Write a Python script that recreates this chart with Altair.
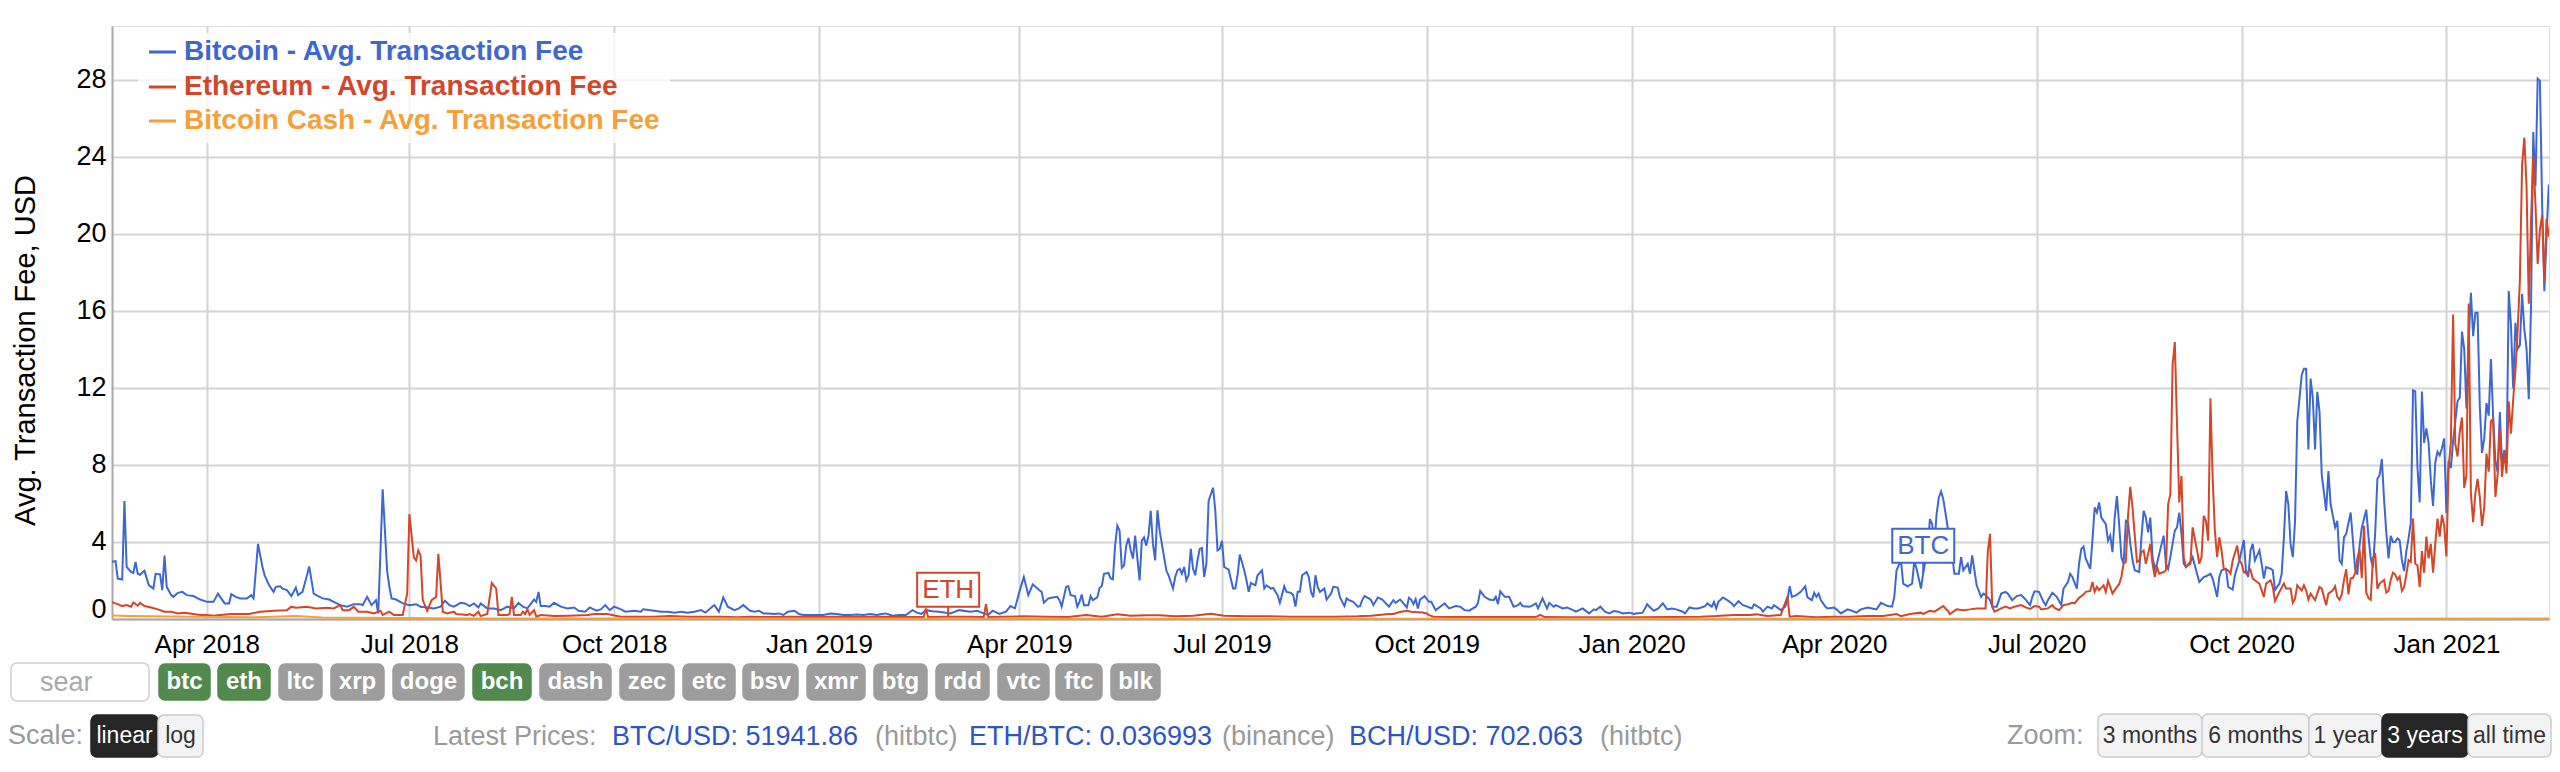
import altair as alt
import pandas as pd

# ---------------- data ----------------
BASE_DATE = "2018-02-17"   # day 0 of the series below

# (day offset from BASE_DATE, avg fee USD)
btc_2018 = [(0,2.96),(2,3.0),(3,2.1),(5,2.05),(6,6.13),(7,2.7),(9,2.44),(10,2.39),(11,2.96),(12,2.35),(13,2.3),(15,2.5),
            (17,1.75),(18,1.67),(19,1.58),(20,2.35),(22,2.32),(23,1.5),(24,3.3),(25,1.67),(27,1.24),(28,1.15),(30,1.36),
            (32,1.41),(34,1.24),(37,1.19),(40,1.01),(43,0.89),(46,0.89),(48,1.32),(49,1.15),(51,0.81),(53,0.81),(54,1.29),
            (56,1.15),(58,1.07),(61,1.07),(63,1.24),(64,1.07),(66,3.9),(68,2.7),(69,2.27),(71,1.75),(73,1.41),(74,1.67),
            (76,1.7),(77,1.58),(79,1.5),(81,1.19),(83,1.63),(84,1.24),(86,1.41),(88,2.27),(89,2.73),(91,1.32),(93,1.19),
            (95,1.07),(98,1.01),(100,0.89),(103,0.72),(106,0.64),(109,0.77),(112,0.77),(113,0.72),(115,1.15),(117,0.72),
            (119,0.98),(120,0.29),(122,6.74),(124,2.5),(125,1.67),(126,1.07),(128,1.01),(131,0.81),(134,0.72),(137,0.77),
            (139,0.64),(142,0.6),(145,0.55),(148,0.64),(150,0.95),(152,0.72),(154,0.64),(157,0.84),(159,0.81),(161,0.67),
            (163,0.81),(165,0.6),(166,0.81),(169,0.55),(172,0.55),(175,0.46),(178,0.64),(181,0.55),(183,0.84),(185,0.64),
            (187,0.55),(190,1.01),(191,0.89),(192,1.41),(193,0.67),(195,0.67),(197,0.64),(199,0.84),(202,0.64),(205,0.55),
            (208,0.6),(210,0.43),(213,0.38),(215,0.6),(218,0.43),(220,0.5),(222,0.72),(224,0.46),(226,0.64),(229,0.5),
            (231,0.38),(235,0.43),(238,0.38),(239,0.5),(244,0.43),(247,0.38),(250,0.38),(253,0.33),(256,0.38),(259,0.33),
            (262,0.38),(265,0.46),(267,0.33),(270,0.64),(271,0.72),(273,0.38),(275,1.12),(277,0.64),(280,0.46),(282,0.55),
            (284,0.72),(287,0.43),(289,0.38),(291,0.43),(293,0.29),(295,0.29),(298,0.26),(300,0.29),(302,0.21),(304,0.38),
            (307,0.43),(309,0.26),(311,0.21),(314,0.21),(317,0.21)]
btc_2019 = [(320,0.21),(323,0.29),(326,0.26),(329,0.21),(332,0.21),(335,0.24),(338,0.21),(341,0.26),(344,0.21),(346,0.26),
            (348,0.29),(351,0.17),(354,0.21),(357,0.21),(360,0.46),(362,0.33),(364,0.26),(366,0.46),(369,0.4),(372,0.38),
            (377,0.29),(381,0.46),(386,0.38),(389,0.43),(392,0.29),(394,0.21),(396,0.43),(399,0.26),(402,0.38),(404,0.67),
            (406,0.55),(408,1.41),(410,2.18),(412,1.24),(414,1.8),(417,1.49),(418,1.41),(419,0.84),(421,1.07),(423,1.12),
            (425,1.15),(426,0.98),(427,0.64),(429,1.67),(430,1.7),(431,1.24),(433,1.19),(434,0.64),(435,0.89),(436,1.27),
            (437,0.72),(439,0.72),(440,1.19),(441,0.98),(443,1.12),(444,1.61),(445,1.7),(446,2.35),(448,2.39),(449,2.1),
            (450,2.06),(451,3.81),(452,4.85),(453,4.6),(454,2.66),(455,2.78),(456,3.81),(457,4.21),(458,3.57),(459,3.14),
            (460,4.33),(461,3.14),(462,2.0),(463,4.07),(464,4.24),(465,3.81),(466,4.33),(467,5.62),(468,3.9),(469,3.04),
            (470,5.65),(471,4.59),(473,3.21),(474,2.53),(475,2.27),(477,1.58),(478,2.18),(479,2.53),(480,2.61),(481,2.35),
            (482,2.7),(483,2.01),(484,2.27),(485,3.64),(486,2.61),(487,2.27),(488,3.04),(489,3.64),(490,3.69),(491,2.18),
            (492,2.87),(493,6.13),(495,6.82),(496,5.62),(497,3.56),(498,3.64),(499,4.07),(500,2.7),(502,2.56),(504,1.58),
            (505,1.58),(506,2.27),(507,3.35),(509,2.53),(510,2.01),(511,1.41),(512,1.87),(514,1.75),(515,2.27),(517,2.53),
            (518,1.58),(519,1.75),(521,1.58),(522,1.61),(524,1.24),(525,0.84),(527,1.7),(528,1.41),(530,1.36),(531,1.24),
            (532,0.64),(533,1.41),(534,1.41),(535,2.27),(537,2.44),(538,2.18),(539,1.41),(540,1.12),(541,2.27),(542,1.67),
            (543,1.41),(545,1.58),(546,1.01),(548,1.32),(549,1.67),(551,1.63),(552,1.12),(554,0.67),(555,1.07),(556,0.98),
            (558,0.89),(560,0.64),(561,0.67),(562,0.98),(563,1.19),(565,1.07),(566,0.98),(567,0.72),(569,1.12),(571,1.01),
            (572,0.89),(574,0.64),(576,0.98),(577,0.84),(579,1.01),(580,0.89),(582,0.6),(583,1.1),(584,1.01),(585,0.77),
            (586,1.03),(587,0.55),(588,1.01),(590,1.19),(592,0.89),(593,0.89),(595,0.46),(597,0.64),(599,0.81),(601,0.55),
            (604,0.67),(606,0.64),(608,0.46),(610,0.43),(613,0.64),(614,0.84),(615,1.46),(617,1.15),(619,1.01),(621,0.98),
            (622,1.15),(623,0.77),(624,1.44),(626,1.15),(628,1.15),(630,0.64),(632,0.72),(633,0.84),(634,0.67),(637,0.64),
            (638,0.67),(640,0.81),(641,0.55),(643,1.07),(645,0.55),(646,0.84),(648,0.64),(649,0.72),(652,0.55),(654,0.6),
            (656,0.5),(658,0.38),(661,0.55),(662,0.46),(664,0.29),(666,0.5),(667,0.46),(669,0.64),(671,0.38),(673,0.29),
            (675,0.41),(677,0.38),(679,0.29)]
btc_2020 = [(682,0.33),(684,0.26),(685,0.29),(688,0.33),(690,0.77),(691,0.64),(693,0.43),(695,0.55),(697,0.81),(699,0.5),
            (701,0.55),(703,0.5),(706,0.38),(707,0.29),(709,0.6),(711,0.55),(713,0.55),(716,0.67),(717,0.81),(719,0.64),
            (720,0.89),(721,0.55),(722,0.89),(724,1.12),(726,0.98),(728,0.81),(729,0.67),(731,0.93),(733,0.72),(735,0.64),
            (737,0.55),(738,0.76),(741,0.55),(742,0.38),(744,0.64),(746,0.55),(747,0.72),(750,0.46),(752,0.64),(753,0.98),
            (754,1.7),(755,1.15),(757,1.24),(759,1.41),(761,1.7),(762,1.12),(764,0.98),(765,1.36),(766,1.15),(767,1.32),
            (768,0.98),(770,0.64),(771,0.55),(774,0.6),(775,0.5),(777,0.29),(780,0.5),(782,0.43),(784,0.33),(786,0.5),
            (789,0.6),(791,0.55),(793,0.5),(795,0.84),(798,0.67),(800,0.64),(801,1.15),(802,2.53),(804,3.04),(805,1.84),
            (807,1.7),(809,1.84),(810,3.04),(811,2.61),(813,1.58),(814,2.4),(816,3.73),(817,5.19),(818,4.93),(819,3.9),
            (820,5.45),(821,6.31),(822,6.62),(823,6.22),(825,4.76),(826,3.73),(827,3.3),(828,2.35),(830,2.35),(831,3.21),
            (832,2.53),(834,2.87),(835,2.35),(836,3.3),(837,2.53),(838,1.75),(840,1.15),(841,1.32),(842,1.24),(844,0.98),
            (845,0.64),(847,0.64),(849,1.32),(851,1.41),(852,1.32),(854,0.98),(856,1.19),(858,1.24),(860,1.01),(862,0.72),
            (863,1.15),(864,1.44),(866,1.41),(868,0.89),(869,0.72),(870,0.98),(872,1.36),(874,1.15),(876,0.72),(877,1.58),
            (879,1.92),(880,2.35),(881,2.18),(883,1.58),(884,2.87),(885,3.64),(886,3.76),(887,3.13),(889,2.61),(890,4.07),
            (891,5.79),(892,5.53),(893,6.05),(894,5.27),(896,4.93),(897,4.07),(898,4.33),(899,3.47),(900,5.27),(901,6.39),
            (902,4.93),(903,3.21),(904,2.87),(905,5.1),(906,5.02),(907,3.92),(908,3.06),(909,2.53),(911,2.44),(912,4.24),
            (913,5.62),(914,5.27),(915,4.5),(916,5.27),(917,3.21),(918,2.61),(919,2.87),(920,3.38),(922,4.33),(923,2.87),
            (924,2.61),(925,3.21),(926,3.9),(927,4.59),(928,4.76),(929,5.53),(930,4.42),(931,2.87),(932,2.7),(934,2.96),
            (935,3.21),(937,2.35),(938,1.92),(940,2.18),(941,2.22),(943,2.35),(944,2.1),(946,1.15),(947,2.18),(948,2.53),
            (950,2.61),(951,1.67),(953,1.53),(954,2.27),(956,3.04),(958,4.1),(959,2.44),(960,2.18),(961,3.56),(962,3.9),
            (963,3.04),(965,3.56),(966,2.87),(967,2.1),(968,2.7),(970,2.61),(971,2.53),(972,1.51),(974,1.84),(975,2.35),
            (976,4.24),(977,6.65),(978,5.96),(979,3.9),(980,3.21),(981,5.05),(982,10.26),(983,11.46),(984,12.66),(985,13.0),
            (986,13.0),(987,8.8),(988,12.49),(989,11.46),(990,8.8),(991,11.8),(992,10.77),(993,7.5),(995,5.62),(996,7.68),
            (997,5.96),(999,4.76),(1000,5.1),(1001,3.04),(1002,2.87),(1003,4.24),(1004,4.42),(1006,5.53),(1007,4.09),
            (1008,2.59),(1009,2.31),(1010,3.83),(1011,4.75),(1012,5.21),(1013,5.68),(1014,4.28),(1015,3.15),(1016,2.68),
            (1017,4.45),(1018,7.28),(1019,7.47),(1020,8.31),(1021,6.19),(1022,4.5),(1023,3.15),(1024,4.32),(1025,4.0),
            (1026,4.0),(1027,4.19),(1028,4.09),(1029,3.06),(1030,2.49),(1031,3.53),(1032,4.19),(1033,5.0),(1034,11.88),
            (1035,11.82),(1036,7.86),(1037,6.06),(1038,11.82),(1039,9.15),(1040,9.9),(1041,9.15),(1042,7.2),(1043,5.87),
            (1044,8.13),(1045,8.69),(1046,8.5),(1047,8.87),(1048,9.38)]
btc_2021 = [(1049,5.5),(1050,8.22),(1051,7.84),(1052,9.24),(1053,10.28),(1054,11.31),(1055,11.5),(1056,14.93),(1057,14.03),
            (1058,10.94),(1059,14.41),(1060,16.94),(1061,14.69),(1062,15.9),(1063,15.9),(1064,11.03),(1065,8.63),(1066,9.38),
            (1067,11.22),(1068,10.56),(1069,13.5),(1070,10.47),(1071,8.22),(1072,7.65),(1073,10.75),(1074,8.03),(1075,8.78),
            (1076,8.03),(1077,17.03),(1078,15.25),(1079,11.97),(1080,15.38),(1081,14.03),(1082,14.22),(1083,16.89),
            (1084,15.06),(1085,14.03),(1086,11.41),(1087,16.1),(1088,25.29),(1089,22.48),(1090,28.07),(1091,27.95),
            (1092,21.54),(1093,17.03),(1094,20.0),(1095,22.57)]

eth_2018 = [(0,0.89),(3,0.77),(5,0.67),(7,0.72),(9,0.64),(10,0.86),(12,0.69),(13,0.84),(15,0.67),(18,0.6),(21,0.5),(24,0.38),
            (27,0.38),(30,0.29),(33,0.33),(37,0.26),(40,0.21),(43,0.21),(46,0.17),(49,0.21),(54,0.26),(58,0.26),(62,0.26),
            (67,0.38),(73,0.43),(79,0.46),(81,0.64),(83,0.58),(88,0.64),(92,0.55),(97,0.58),(100,0.55),(103,0.72),(104,0.46),
            (107,0.46),(109,0.64),(111,0.38),(115,0.38),(118,0.29),(121,0.43),(122,0.21),(125,0.38),(127,0.21),(131,0.21),
            (133,1.32),(134,5.45),(136,3.21),(137,3.04),(138,3.56),(139,3.3),(140,0.98),(142,0.42),(144,0.98),(146,1.15),
            (147,3.38),(149,0.38),(151,0.29),(154,0.38),(155,0.26),(160,0.21),(161,0.26),(163,0.17),(165,0.38),(166,0.15),
            (169,0.26),(171,1.87),(173,1.58),(174,0.21),(178,0.21),(179,0.26),(180,1.15),(181,0.21),(184,0.21),(185,0.38),
            (186,0.26),(187,0.5),(188,0.21),(190,0.46),(191,0.12),(193,0.21),(199,0.15),(206,0.17),(214,0.21),(217,0.26),
            (223,0.26),(225,0.21),(229,0.12),(236,0.12),(244,0.12),(251,0.15),(259,0.12),(266,0.12),(274,0.12),(281,0.09),
            (287,0.12),(295,0.1),(305,0.12),(315,0.1)]
eth_2019 = [(325,0.12),(335,0.1),(345,0.12),(355,0.1),(365,0.1),(366,0.55),(367,0.1),(376,0.12),(385,0.12),(392,0.1),
            (393,0.77),(394,0.1),(400,0.12),(410,0.14),(420,0.12),(430,0.1),(438,0.21),(445,0.12),(452,0.24),(458,0.17),
            (465,0.19),(471,0.19),(478,0.14),(486,0.17),(494,0.27),(500,0.17),(510,0.14),(520,0.14),(530,0.12),(540,0.12),
            (550,0.12),(560,0.14),(566,0.17),(574,0.26),(576,0.26),(579,0.36),(582,0.43),(584,0.38),(586,0.36),(589,0.34),
            (591,0.29),(592,0.2),(594,0.12),(600,0.1),(610,0.1),(620,0.1),(630,0.1),(640,0.1),(642,0.21),(644,0.1),
            (655,0.09),(670,0.09)]
eth_2020 = [(685,0.09),(700,0.1),(714,0.12),(721,0.15),(729,0.21),(736,0.21),(739,0.24),(744,0.15),(750,0.21),(753,1.15),
            (754,0.12),(757,0.15),(766,0.09),(774,0.12),(781,0.12),(789,0.15),(796,0.15),(802,0.26),(804,0.15),(808,0.26),
            (813,0.33),(814,0.26),(817,0.43),(819,0.38),(823,0.67),(825,0.43),(826,0.26),(829,0.5),(832,0.46),(835,0.5),
            (838,0.55),(842,0.55),(843,3.5),(844,4.42),(845,0.64),(846,0.38),(849,0.55),(851,0.64),(853,0.55),(855,0.64),
            (858,0.72),(860,0.6),(862,0.52),(864,0.67),(866,0.64),(867,0.5),(870,0.55),(872,0.72),(873,0.58),(875,0.46),
            (877,0.72),(879,0.77),(881,0.84),(882,0.81),(884,1.1),(886,1.27),(887,1.41),(889,1.46),(890,1.92),(891,1.41),
            (892,1.67),(893,1.5),(895,1.75),(896,1.41),(897,1.98),(898,1.67),(899,1.32),(901,1.67),(902,1.81),(903,2.18),
            (904,2.87),(905,2.96),(906,5.36),(907,6.86),(908,5.79),(910,2.96),(911,3.04),(912,3.47),(913,3.56),(914,2.87),
            (916,3.9),(917,2.87),(918,2.18),(919,2.7),(920,2.35),(922,2.44),(923,2.53),(924,5.96),(925,6.48),(926,13.18),
            (927,14.38),(928,10.09),(929,6.05),(930,7.42),(931,3.21),(932,2.7),(934,2.87),(935,4.76),(937,3.56),(938,2.87),
            (939,3.21),(940,5.36),(941,5.1),(942,4.07),(943,11.46),(944,7.34),(945,4.59),(946,3.21),(947,4.24),(948,3.56),
            (949,2.61),(951,2.53),(952,2.35),(953,3.04),(955,3.81),(956,3.04),(957,2.87),(958,2.44),(959,2.39),(961,2.56),
            (962,2.1),(964,1.92),(965,1.84),(967,1.15),(968,1.84),(970,2.01),(971,1.67),(972,0.94),(974,1.41),(976,1.84),
            (977,1.58),(979,1.58),(980,0.84),(981,1.05),(982,1.75),(984,1.49),(985,1.75),(986,1.49),(987,1.01),(988,1.32),
            (990,0.98),(991,1.32),(992,1.67),(993,1.58),(995,0.72),(996,1.32),(998,1.49),(999,1.7),(1000,1.15),(1001,1.0),
            (1002,1.28),(1003,2.03),(1004,2.59),(1005,1.28),(1006,2.12),(1007,2.12),(1008,2.4),(1009,3.15),(1010,3.62),
            (1011,2.12),(1012,4.84),(1013,1.37),(1014,1.09),(1015,1.0),(1016,3.15),(1017,3.43),(1018,1.56),(1019,1.84),
            (1021,2.03),(1022,1.37),(1023,1.46),(1024,2.03),(1025,2.4),(1026,2.31),(1027,2.03),(1028,2.21),(1029,1.46),
            (1030,1.65),(1031,2.31),(1032,3.06),(1033,2.96),(1034,5.22),(1035,2.87),(1036,2.78),(1037,1.65),(1038,3.53),
            (1039,2.4),(1040,4.28),(1041,3.15),(1042,3.9),(1043,2.4),(1044,3.9),(1045,5.22),(1046,4.28),(1047,5.4),
            (1048,4.84)]
eth_2021 = [(1049,3.25),(1050,7.85),(1051,9.19),(1052,15.82),(1053,9.09),(1054,8.44),(1055,9.72),(1056,10.47),(1057,6.81),
            (1058,7.47),(1059,16.38),(1060,6.53),(1061,5.03),(1062,6.53),(1063,7.28),(1064,6.34),(1065,4.84),(1066,5.78),
            (1067,8.59),(1068,7.65),(1069,10.28),(1070,10.38),(1071,6.34),(1072,7.47),(1073,9.91),(1074,7.38),(1075,8.69),
            (1076,7.56),(1077,11.31),(1078,9.62),(1079,11.41),(1080,12.9),(1081,14.97),(1082,17.6),(1083,23.6),(1084,25.0),
            (1085,22.47),(1086,16.38),(1087,20.6),(1088,24.07),(1089,21.54),(1090,18.44),(1091,20.23),(1092,20.98),
            (1093,17.5),(1094,20.79),(1095,19.85)]

bch_all = [(0,0.18),(8,0.16),(20,0.14),(35,0.12),(50,0.1),(65,0.09),(83,0.16),(95,0.08),(110,0.06),(130,0.05),(160,0.03),
           (200,0.02),(300,0.02),(400,0.01),(600,0.01),(800,0.01),(950,0.02),(1000,0.01),(1095,0.02)]

series_names = ["Bitcoin", "Ethereum", "Bitcoin Cash"]
legend_labels = ["Bitcoin - Avg. Transaction Fee", "Ethereum - Avg. Transaction Fee",
                 "Bitcoin Cash - Avg. Transaction Fee"]
series_colors = ["#3d68d2", "#d2472a", "#f5a03a"]

annotation_text = ["ETH", "BTC"]
annotation_series = ["Ethereum", "Bitcoin"]
annotation_day = [376, 814]

y_ticks = [0, 4, 8, 12, 16, 20, 24, 28]
x_tick_months = [(2018, 4), (2018, 7), (2018, 10), (2019, 1), (2019, 4), (2019, 7), (2019, 10),
                 (2020, 1), (2020, 4), (2020, 7), (2020, 10), (2021, 1)]

coin_labels = ["btc", "eth", "ltc", "xrp", "doge", "bch", "dash", "zec", "etc", "bsv", "xmr", "btg",
               "rdd", "vtc", "ftc", "blk"]
coin_active = ["btc", "eth", "bch"]
scale_labels = ["linear", "log"]
zoom_labels = ["3 months", "6 months", "1 year", "3 years", "all time"]
zoom_active = "3 years"
price_texts = ["Latest Prices:", "BTC/USD: 51941.86", "(hitbtc)", "ETH/BTC: 0.036993", "(binance)",
               "BCH/USD: 702.063", "(hitbtc)"]
price_kinds = ["muted", "quote", "muted", "quote", "muted", "quote", "muted"]

# ---------------- layout (page pixels) ----------------
PLOT_X0, PLOT_Y0 = 112, 26
W, H = 2437, 593
FONT = "Liberation Sans"
coin_left = [159, 218, 279, 331, 393, 473, 540, 620, 683, 743, 807, 874, 936, 998, 1056, 1111]
coin_right = [210, 270, 322, 384, 464, 531, 611, 674, 735, 798, 865, 927, 989, 1049, 1102, 1160]
scale_left, scale_right = [91, 158], [158, 203]
zoom_left = [2098, 2202, 2309, 2382, 2468]
zoom_right = [2202, 2309, 2382, 2468, 2551]
price_left = [433, 612, 875, 969, 1222, 1349, 1600]


def cx(px):
    return px - PLOT_X0


def cy(py):
    return py - PLOT_Y0


# ---------------- build tables ----------------
base = pd.Timestamp(BASE_DATE)
series_points = {
    "Bitcoin": btc_2018 + btc_2019 + btc_2020 + btc_2021,
    "Ethereum": eth_2018 + eth_2019 + eth_2020 + eth_2021,
    "Bitcoin Cash": bch_all,
}
rows = []
for name in series_names:
    for d, v in sorted(series_points[name]):
        rows.append({"date": (base + pd.Timedelta(days=d)).strftime("%Y-%m-%dT%H:%M:%S"),
                     "fee": v, "series": name})
df = pd.DataFrame(rows)

ann_rows = []
for t, s, d in zip(annotation_text, annotation_series, annotation_day):
    val = dict(series_points[s])[d]
    ann_rows.append({"date": (base + pd.Timedelta(days=d)).strftime("%Y-%m-%dT%H:%M:%S"),
                     "fee": val, "label": t, "series": s})
ann_df = pd.DataFrame(ann_rows)

x_scale = alt.Scale(domain=[alt.DateTime(year=2018, month=2, date=17, hours=10),
                            alt.DateTime(year=2021, month=2, date=16, hours=2)], nice=False)
y_scale = alt.Scale(domain=[0, 30.8], nice=False, zero=False)
color_scale = alt.Scale(domain=series_names, range=series_colors)

x_axis = alt.Axis(values=[alt.DateTime(year=y, month=m, date=1) for y, m in x_tick_months],
                  format="%b %Y", title=None, grid=True, gridColor="#d4d4d4", gridWidth=2,
                  tickSize=0, domainColor="#a8a8a8", domainWidth=2, labelFontSize=26,
                  labelColor="#000000", labelPadding=12, labelFont=FONT, labelFlush=False)
y_axis = alt.Axis(values=y_ticks, title="Avg. Transaction Fee, USD", grid=True, gridColor="#d4d4d4",
                  gridWidth=2, tickSize=0, domainColor="#a8a8a8", domainWidth=2, labelFontSize=27,
                  labelColor="#000000", labelPadding=6, labelFont=FONT, labelFlush=True,
                  labelFlushOffset=4, titleFontSize=29, titleFontWeight="normal", titleColor="#000000",
                  titleFont=FONT, titleAngle=270, titleX=cx(34), titleY=cy(350), titleAlign="center",
                  titleBaseline="alphabetic")

lines = alt.Chart(df).mark_line(strokeWidth=2, clip=True).encode(
    x=alt.X("date:T", scale=x_scale, axis=x_axis),
    y=alt.Y("fee:Q", scale=y_scale, axis=y_axis),
    color=alt.Color("series:N", scale=color_scale, legend=None),
    order=alt.Order("date:T"),
)

box_path = "M-1,-1.42L1,-1.42L1,-0.32L-1,-0.32Z M0,-0.32L0,0"
ann_boxes = alt.Chart(ann_df).mark_point(shape=box_path, size=62 * 62, filled=True, fill="white",
                                         fillOpacity=1, strokeWidth=2, opacity=1, clip=False).encode(
    x=alt.X("date:T", scale=x_scale, axis=None),
    y=alt.Y("fee:Q", scale=y_scale, axis=None),
    stroke=alt.Stroke("series:N", scale=color_scale, legend=None),
)
ann_text = alt.Chart(ann_df).mark_text(fontSize=26, dy=-27, baseline="middle", align="center",
                                       font=FONT).encode(
    x=alt.X("date:T", scale=x_scale, axis=None),
    y=alt.Y("fee:Q", scale=y_scale, axis=None),
    text="label:N",
    color=alt.Color("series:N", scale=color_scale, legend=None),
)

# legend box inside the plot
leg_df = pd.DataFrame({"label": legend_labels, "c": series_colors,
                       "ly": [cy(52), cy(87), cy(121)]})
leg_bg = alt.Chart(pd.DataFrame({"k": [0]})).mark_rect(fill="white", opacity=0.78).encode(
    x=alt.value(cx(138)), x2=alt.value(cx(670)), y=alt.value(cy(33)), y2=alt.value(cy(143)))
leg_swatch = alt.Chart(leg_df).mark_rule(strokeWidth=3).encode(
    x=alt.value(cx(149)), x2=alt.value(cx(176)),
    y=alt.Y("ly:Q", scale=None, axis=None),
    color=alt.Color("c:N", scale=None, legend=None))
leg_text = alt.Chart(leg_df).mark_text(align="left", baseline="middle", fontSize=28, fontWeight="bold",
                                       font=FONT).encode(
    x=alt.value(cx(184)), y=alt.Y("ly:Q", scale=None, axis=None), text="label:N",
    color=alt.Color("c:N", scale=None, legend=None))

# ---------------- page controls below the chart ----------------
btn_rows = []
# search box
btn_rows.append({"x": cx(11), "x2": cx(149), "y": cy(663), "y2": cy(701), "fill": "#ffffff", "stroke": "#cfcfcf"})
for lab, l, r in zip(coin_labels, coin_left, coin_right):
    btn_rows.append({"x": cx(l), "x2": cx(r), "y": cy(664), "y2": cy(700),
                     "fill": "#528a4e" if lab in coin_active else "#9d9d9d",
                     "stroke": "#528a4e" if lab in coin_active else "#9d9d9d"})
for i, (l, r) in enumerate(zip(scale_left, scale_right)):
    btn_rows.append({"x": cx(l), "x2": cx(r), "y": cy(715), "y2": cy(757),
                     "fill": "#262626" if i == 0 else "#f3f3f3", "stroke": "#262626" if i == 0 else "#cccccc"})
for lab, l, r in zip(zoom_labels, zoom_left, zoom_right):
    act = lab == zoom_active
    btn_rows.append({"x": cx(l), "x2": cx(r), "y": cy(714), "y2": cy(757),
                     "fill": "#262626" if act else "#f3f3f3", "stroke": "#262626" if act else "#cccccc"})
btn_df = pd.DataFrame(btn_rows)
buttons = alt.Chart(btn_df).mark_rect(cornerRadius=6, strokeWidth=1.5).encode(
    x=alt.X("x:Q", scale=None, axis=None), x2="x2:Q",
    y=alt.Y("y:Q", scale=None, axis=None), y2="y2:Q",
    fill=alt.Fill("fill:N", scale=None, legend=None),
    stroke=alt.Stroke("stroke:N", scale=None, legend=None))

coin_txt = pd.DataFrame({"t": coin_labels,
                         "x": [cx((l + r) / 2) for l, r in zip(coin_left, coin_right)],
                         "y": [cy(682)] * len(coin_labels)})
coin_text = alt.Chart(coin_txt).mark_text(fontSize=24, fontWeight="bold", color="white", font=FONT,
                                          baseline="middle", align="center").encode(
    x=alt.X("x:Q", scale=None, axis=None), y=alt.Y("y:Q", scale=None, axis=None), text="t:N")

ctrl_rows = []
for i, (lab, l, r) in enumerate(zip(scale_labels, scale_left, scale_right)):
    ctrl_rows.append({"t": lab, "x": cx((l + r) / 2), "y": cy(736), "c": "#ffffff" if i == 0 else "#333333"})
for lab, l, r in zip(zoom_labels, zoom_left, zoom_right):
    ctrl_rows.append({"t": lab, "x": cx((l + r) / 2), "y": cy(736),
                      "c": "#ffffff" if lab == zoom_active else "#333333"})
ctrl_df = pd.DataFrame(ctrl_rows)
ctrl_text = alt.Chart(ctrl_df).mark_text(fontSize=23, font=FONT, baseline="middle", align="center").encode(
    x=alt.X("x:Q", scale=None, axis=None), y=alt.Y("y:Q", scale=None, axis=None), text="t:N",
    color=alt.Color("c:N", scale=None, legend=None))

plain_rows = [{"t": "sear", "x": cx(40), "y": cy(683), "c": "#aaaaaa"},
              {"t": "Scale:", "x": cx(8), "y": cy(736), "c": "#9a9a9a"},
              {"t": "Zoom:", "x": cx(2007), "y": cy(736), "c": "#9a9a9a"}]
for t, k, l in zip(price_texts, price_kinds, price_left):
    plain_rows.append({"t": t, "x": cx(l), "y": cy(737), "c": "#2c54c6" if k == "quote" else "#9a9a9a"})
plain_df = pd.DataFrame(plain_rows)
plain_text = alt.Chart(plain_df).mark_text(fontSize=27, font=FONT, baseline="middle", align="left").encode(
    x=alt.X("x:Q", scale=None, axis=None), y=alt.Y("y:Q", scale=None, axis=None), text="t:N",
    color=alt.Color("c:N", scale=None, legend=None))

chart = alt.layer(
    lines, ann_boxes, ann_text, leg_bg, leg_swatch, leg_text,
    buttons, coin_text, ctrl_text, plain_text,
).resolve_scale(
    x="independent", y="independent", color="independent", stroke="independent", fill="independent"
).properties(
    width=W, height=H,
    padding={"left": 104, "top": 18, "right": 3, "bottom": 140},
    autosize=alt.AutoSizeParams(type="none"),
    background="white",
).configure_view(stroke=None).configure(font=FONT)

chart.save("out.html", embed_options={"renderer": "svg", "actions": False})
